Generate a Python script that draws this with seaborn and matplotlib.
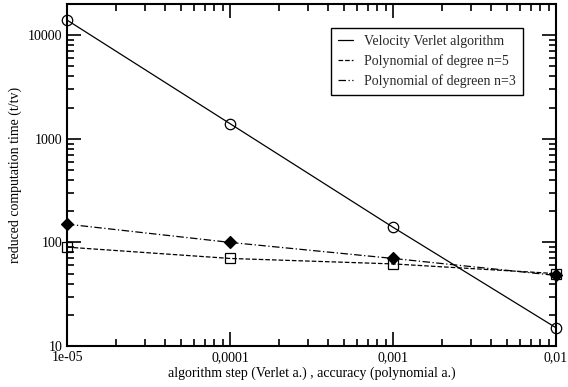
import matplotlib
matplotlib.use("Agg")
import matplotlib.pyplot as plt
import seaborn as sns
import pandas as pd
from matplotlib.ticker import FixedLocator, FixedFormatter, LogLocator, NullFormatter
from matplotlib.lines import Line2D

steps = [1e-5, 1e-4, 1e-3, 1e-2]
verlet = [14000, 1400, 140, 15]
poly5 = [90, 70, 62, 50]
poly3 = [150, 100, 70, 48]
xtick_labels = ["1e-05", "0,0001", "0,001", "0,01"]
ytick_vals = [10, 100, 1000, 10000]
names = ["Velocity Verlet algorithm", "Polynomial of degree n=5", "Polynomial of degreen n=3"]

sns.set_theme(style="ticks")
plt.rcParams['font.family'] = ['Liberation Serif', 'DejaVu Serif']

df = pd.concat([
    pd.DataFrame({"x": steps, "y": verlet, "s": names[0]}),
    pd.DataFrame({"x": steps, "y": poly5, "s": names[1]}),
    pd.DataFrame({"x": steps, "y": poly3, "s": names[2]}),
])

fig = plt.figure(figsize=(5.68, 3.87), dpi=100)
ax = fig.add_axes([67/568, 1-346/387, (556-67)/568, (346-4)/387])
ax.set_xscale("log")
ax.set_yscale("log")

styles = [("-", "o", "none", 7.5), ("--", "s", "none", 7), ((0, (6, 2, 1, 2)), "D", "black", 6.5)]
for name, (ls, mk, fc, ms) in zip(names, styles):
    sub = df[df.s == name]
    sns.lineplot(data=sub, x="x", y="y", ax=ax, color="black", lw=0.9,
                 linestyle=ls, label=name, legend=False)
    ax.plot(sub.x, sub.y, linestyle="none", marker=mk, markersize=ms,
            markerfacecolor=fc, markeredgecolor="black", markeredgewidth=0.9, clip_on=False, zorder=5)

ax.set_xlim(1e-5, 1e-2)
ax.set_ylim(10, 20000)
ax.xaxis.set_major_locator(FixedLocator(steps))
ax.xaxis.set_major_formatter(FixedFormatter(xtick_labels))
ax.yaxis.set_major_locator(FixedLocator(ytick_vals))
ax.yaxis.set_major_formatter(FixedFormatter([str(v) for v in ytick_vals]))
ax.xaxis.set_minor_locator(LogLocator(base=10, subs=range(2, 10)))
ax.yaxis.set_minor_locator(LogLocator(base=10, subs=range(2, 10)))
ax.xaxis.set_minor_formatter(NullFormatter())
ax.yaxis.set_minor_formatter(NullFormatter())
ax.tick_params(which="both", direction="in", top=True, right=True, colors="black", labelsize=10, width=1.2)
ax.tick_params(which="major", length=10)
ax.tick_params(which="minor", length=5)
for sp in ax.spines.values():
    sp.set_color("black")
    sp.set_linewidth(1.5)

ax.set_xlabel("algorithm step (Verlet a.) , accuracy (polynomial a.)", fontsize=10, color="black", labelpad=2)
ax.set_ylabel("reduced computation time (t/tv)", fontsize=10, color="black", labelpad=4)

handles = [Line2D([], [], color="black", lw=0.9, linestyle=s[0]) for s in styles]
leg = ax.legend(handles, names, loc="upper right", bbox_to_anchor=(523/568, 1-28/387), bbox_transform=fig.transFigure,
                fontsize=10, frameon=True, fancybox=False, framealpha=1, edgecolor="black", borderaxespad=0,
                handlelength=1.1, borderpad=0.5, labelspacing=0.45, handletextpad=0.8)
leg.get_frame().set_linewidth(1.0)

fig.savefig("out.png", dpi=100)
